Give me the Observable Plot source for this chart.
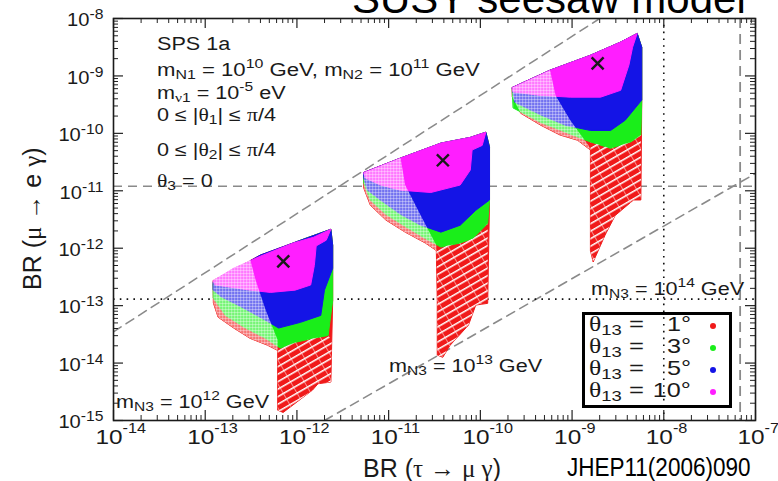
<!DOCTYPE html>
<html><head><meta charset="utf-8">
<script src="https://cdn.jsdelivr.net/npm/d3@7"></script>
<script src="https://cdn.jsdelivr.net/npm/@observablehq/plot@0.6"></script>
<style>
body{margin:0;background:#fff;}
#wrap{position:relative;width:778px;height:481px;overflow:hidden;font-family:"Liberation Sans",Arial,sans-serif;color:#1a1a1a;}
#wrap svg{position:absolute;left:0;top:0;}
.ann{position:absolute;white-space:nowrap;line-height:1;transform-origin:0 0;}
.ann sup,.ann sub{position:relative;font-size:0.72em;vertical-align:baseline;}
.ann sup{top:-0.55em;}
.ann sub{top:0.3em;}
.g{font-family:"Liberation Serif","DejaVu Serif",serif;}
</style></head><body><div id="wrap"></div>
<script>
// ---------- data ----------
const xDomain = [1e-14, 1e-7];
const yDomain = [1e-15, 1e-8];
const xTickExp = [-14, -13, -12, -11, -10, -9, -8, -7];
const yTickExp = [-15, -14, -13, -12, -11, -10, -9, -8];
const thetaNames = ["1°", "3°", "5°", "10°"];
const thetaColors = ["#f01a1a", "#1aee1a", "#1414e6", "#ff1eff"];

// scatter-region outlines, [log10 BR(tau->mu gamma), log10 BR(mu->e gamma)]
// m_N3 = 1e12 GeV
const red1 = [[-12.91,-12.56],[-12.40,-12.12],[-11.96,-11.86],[-11.63,-11.67],[-11.61,-11.95],[-11.61,-12.91],[-11.62,-13.60],[-11.63,-14.33],[-11.77,-14.36],[-11.83,-14.47],[-12.15,-14.86],[-12.21,-14.82],[-12.21,-13.78],[-12.32,-13.69],[-12.51,-13.57],[-12.69,-13.39],[-12.86,-13.20],[-12.91,-12.96]];
const green1 = [[-12.91,-12.61],[-12.40,-12.14],[-11.96,-11.86],[-11.63,-11.67],[-11.61,-11.95],[-11.61,-12.91],[-11.66,-13.52],[-11.83,-13.57],[-12.02,-13.64],[-12.18,-13.74],[-12.34,-13.57],[-12.56,-13.39],[-12.78,-13.17],[-12.91,-12.87]];
const blue1 = [[-12.91,-12.58],[-12.40,-12.12],[-11.96,-11.86],[-11.63,-11.67],[-11.61,-11.95],[-11.61,-12.35],[-11.70,-12.73],[-11.74,-13.17],[-11.96,-13.29],[-12.20,-13.39],[-12.38,-13.22],[-12.62,-13.01],[-12.83,-12.84],[-12.91,-12.73]];
const magenta1 = [[-12.91,-12.56],[-12.69,-12.35],[-12.40,-12.14],[-12.04,-11.91],[-11.82,-11.81],[-11.63,-11.67],[-11.68,-11.86],[-11.79,-11.96],[-11.81,-12.30],[-11.85,-12.64],[-12.02,-12.73],[-12.29,-12.77],[-12.51,-12.73],[-12.72,-12.68],[-12.89,-12.64]];
// m_N3 = 1e13 GeV
const red2 = [[-11.27,-10.68],[-10.87,-10.43],[-10.43,-10.17],[-10.11,-10.07],[-9.94,-9.98],[-9.90,-10.24],[-9.90,-11.16],[-9.92,-12.96],[-10.05,-12.99],[-10.13,-13.34],[-10.33,-13.69],[-10.41,-13.90],[-10.47,-13.86],[-10.47,-12.91],[-10.48,-12.04],[-10.60,-11.91],[-10.82,-11.72],[-11.03,-11.51],[-11.20,-11.25],[-11.27,-10.96]];
const green2 = [[-11.27,-10.68],[-10.87,-10.43],[-10.43,-10.17],[-10.11,-10.07],[-9.94,-9.98],[-9.90,-10.24],[-9.90,-11.16],[-9.92,-11.57],[-10.08,-11.83],[-10.22,-11.91],[-10.43,-11.98],[-10.60,-11.83],[-10.82,-11.62],[-11.03,-11.41],[-11.20,-11.16],[-11.27,-10.87]];
const blue2 = [[-11.27,-10.68],[-10.87,-10.43],[-10.43,-10.17],[-10.11,-10.07],[-9.94,-9.98],[-9.90,-10.24],[-9.90,-11.16],[-10.05,-11.34],[-10.22,-11.60],[-10.43,-11.72],[-10.65,-11.60],[-10.87,-11.41],[-11.09,-11.16],[-11.23,-10.99],[-11.27,-10.78]];
const magenta2 = [[-11.27,-10.68],[-10.87,-10.43],[-10.43,-10.17],[-10.11,-10.07],[-9.94,-9.98],[-9.98,-10.21],[-10.09,-10.29],[-10.11,-10.64],[-10.22,-10.90],[-10.54,-11.03],[-10.87,-10.99],[-11.09,-10.90],[-11.25,-10.78]];
// m_N3 = 1e14 GeV
const red3 = [[-9.65,-9.20],[-9.24,-8.90],[-8.80,-8.64],[-8.47,-8.41],[-8.29,-8.26],[-8.24,-8.50],[-8.24,-9.42],[-8.25,-11.16],[-8.33,-11.16],[-8.53,-11.43],[-8.64,-11.77],[-8.77,-12.24],[-8.80,-12.04],[-8.80,-10.29],[-8.94,-10.12],[-9.13,-10.03],[-9.34,-9.86],[-9.56,-9.65],[-9.65,-9.37]];
const green3 = [[-9.65,-9.20],[-9.24,-8.90],[-8.80,-8.64],[-8.47,-8.41],[-8.29,-8.26],[-8.24,-8.50],[-8.24,-9.42],[-8.25,-10.03],[-8.36,-10.15],[-8.58,-10.26],[-8.80,-10.15],[-9.07,-9.98],[-9.34,-9.81],[-9.64,-9.56]];
const blue3 = [[-9.65,-9.20],[-9.24,-8.90],[-8.80,-8.64],[-8.47,-8.41],[-8.29,-8.26],[-8.24,-8.50],[-8.24,-9.42],[-8.42,-9.77],[-8.58,-9.95],[-8.80,-9.95],[-9.07,-9.86],[-9.34,-9.68],[-9.62,-9.46]];
const magenta3 = [[-9.65,-9.20],[-9.24,-8.90],[-8.80,-8.64],[-8.47,-8.41],[-8.29,-8.26],[-8.34,-8.50],[-8.38,-8.81],[-8.47,-9.25],[-8.69,-9.37],[-9.02,-9.37],[-9.34,-9.34],[-9.64,-9.28]];
// sparse (dotted) outer parts of each region
const sparse1 = [[-12.91,-12.52],[-12.51,-12.19],[-12.45,-12.56],[-12.34,-13.08],[-12.21,-13.60],[-12.21,-13.78],[-12.32,-13.69],[-12.51,-13.57],[-12.69,-13.39],[-12.86,-13.20],[-12.91,-12.96]];
const sparse2 = [[-11.27,-10.68],[-10.87,-10.43],[-10.82,-10.90],[-10.65,-11.43],[-10.48,-11.95],[-10.48,-12.04],[-10.60,-11.91],[-10.82,-11.72],[-11.03,-11.51],[-11.20,-11.25],[-11.27,-10.96]];
const sparse3 = [[-9.65,-9.20],[-9.24,-8.90],[-9.18,-9.34],[-9.02,-9.77],[-8.82,-10.21],[-8.80,-10.29],[-8.94,-10.12],[-9.13,-10.03],[-9.34,-9.86],[-9.56,-9.65],[-9.65,-9.37]];
// striped lower tails (theta13 = 1 deg only)
const tail1 = [[-12.21,-13.78],[-12.21,-14.82],[-12.15,-14.86],[-11.83,-14.47],[-11.77,-14.36],[-11.63,-14.33],[-11.62,-13.60],[-11.66,-13.52],[-11.83,-13.57],[-12.02,-13.64],[-12.18,-13.74]];
const tail2 = [[-10.48,-12.04],[-10.47,-12.91],[-10.47,-13.86],[-10.41,-13.90],[-10.33,-13.69],[-10.13,-13.34],[-10.05,-12.99],[-9.92,-12.96],[-9.92,-11.57],[-10.08,-11.83],[-10.22,-11.91],[-10.43,-11.98]];
const tail3 = [[-8.80,-10.29],[-8.80,-12.04],[-8.77,-12.24],[-8.64,-11.77],[-8.53,-11.43],[-8.33,-11.16],[-8.25,-11.16],[-8.25,-10.03],[-8.36,-10.15],[-8.58,-10.26],[-8.80,-10.15]];

// reference points (x marks)
const markX = [7.1e-13, 3.9e-11, 1.9e-9];
const markY = [5.9e-13, 3.4e-11, 1.65e-9];
// experimental bounds / sensitivities
const boundMuDashed = 1.2e-11;
const boundMuDotted = 1.3e-13;
const boundTauDotted = 1e-8;
const boundTauDashed = 6.8e-8;
// diagonal guide lines (endpoints)
const diagAx = [1e-14, 2.0e-9], diagAy = [3.5e-14, 1e-8];
const diagBx = [2.0e-12, 1e-7], diagBy = [1e-15, 2.0e-11];

// ---------- build ----------
const W = 778, H = 481, mL = 113, mR = 23, mT = 18, mB = 61;
const innerW = W - mL - mR, innerH = H - mT - mB;
const regionSets = [[red1, red2, red3], [green1, green2, green3], [blue1, blue2, blue3], [magenta1, magenta2, magenta3]];
const toRows = polys => polys.flatMap((poly, c) => poly.map(([lx, ly]) => ({x: 10 ** lx, y: 10 ** ly, c})));
const marks = markX.map((x, i) => ({x, y: markY[i]}));
const diag = [
  ...diagAx.map((x, i) => ({x, y: diagAy[i], k: "A"})),
  ...diagBx.map((x, i) => ({x, y: diagBy[i], k: "B"}))
];
const allX = d3.scaleLog().domain(xDomain).ticks();
const allY = d3.scaleLog().domain(yDomain).ticks();
const isMajor = v => Math.abs(Math.log10(v) - Math.round(Math.log10(v))) < 1e-6;
const minX = allX.filter(v => !isMajor(v)), majX = allX.filter(isMajor);
const minY = allY.filter(v => !isMajor(v)), majY = allY.filter(isMajor);
const xLabVals = xTickExp.map(e => 10 ** e), yLabVals = yTickExp.map(e => 10 ** e);
const gray = "#8a8a8a";
const expFmt = d => String(Math.round(Math.log10(d)));

const plot = Plot.plot({
  width: W, height: H,
  marginLeft: mL, marginRight: mR, marginTop: mT, marginBottom: mB,
  x: {type: "log", domain: xDomain},
  y: {type: "log", domain: yDomain},
  style: {background: "transparent", color: "#1a1a1a"},
  marks: [
    Plot.line(diag, {x: "x", y: "y", z: "k", stroke: gray, strokeWidth: 1.6, strokeDasharray: "9,6", clip: true}),
    Plot.ruleY([boundMuDashed], {stroke: gray, strokeWidth: 1.6, strokeDasharray: "9,6"}),
    Plot.ruleY([boundMuDotted], {stroke: "#111", strokeWidth: 1.6, strokeDasharray: "1.6,5.2"}),
    Plot.ruleX([boundTauDotted], {stroke: "#111", strokeWidth: 1.6, strokeDasharray: "1.6,5.2"}),
    Plot.ruleX([boundTauDashed], {stroke: gray, strokeWidth: 1.8, strokeDasharray: "10,6"}),
    ...thetaNames.map((t, i) => Plot.line(toRows(regionSets[i]), {x: "x", y: "y", z: "c", curve: "linear-closed", fill: thetaColors[i], stroke: thetaColors[i], strokeWidth: 1})),
    Plot.line(toRows([sparse1, sparse2, sparse3]), {x: "x", y: "y", z: "c", curve: "linear-closed", fill: "url(#speck)", stroke: "none"}),
    Plot.line(toRows([tail1, tail2, tail3]), {x: "x", y: "y", z: "c", curve: "linear-closed", fill: "url(#stripe)", stroke: "none"}),
    Plot.dot(marks, {x: "x", y: "y", symbol: "times", r: 5.5, stroke: "#1a1a1a", strokeWidth: 2.4}),
    // inward ticks on all four sides
    Plot.tickX(minX, {x: d => d, insetTop: innerH - 5, stroke: "#222"}),
    Plot.tickX(minX, {x: d => d, insetBottom: innerH - 5, stroke: "#222"}),
    Plot.tickX(majX, {x: d => d, insetTop: innerH - 10, stroke: "#222", strokeWidth: 1.2}),
    Plot.tickX(majX, {x: d => d, insetBottom: innerH - 10, stroke: "#222", strokeWidth: 1.2}),
    Plot.tickY(minY, {y: d => d, insetRight: innerW - 5, stroke: "#222"}),
    Plot.tickY(minY, {y: d => d, insetLeft: innerW - 5, stroke: "#222"}),
    Plot.tickY(majY, {y: d => d, insetRight: innerW - 10, stroke: "#222", strokeWidth: 1.2}),
    Plot.tickY(majY, {y: d => d, insetLeft: innerW - 10, stroke: "#222", strokeWidth: 1.2}),
    Plot.axisX({ticks: xLabVals, tickSize: 0, tickPadding: 9, fontSize: 21, tickFormat: expFmt, label: null}),
    Plot.axisY({ticks: yLabVals, tickSize: 0, tickPadding: 10, fontSize: 18, tickFormat: expFmt, label: null}),
    Plot.frame({stroke: "#1a1a1a", strokeWidth: 1.6})
  ]
});

const NS = "http://www.w3.org/2000/svg";
// textures: dotted sparse parts, streaked tails
const defs = document.createElementNS(NS, "defs");
defs.innerHTML =
  '<pattern id="speck" width="3" height="3" patternUnits="userSpaceOnUse"><path d="M0,0h3v3h-3z M0.5,0.5v2.1h2.1v-2.1z" fill="#fff" fill-rule="evenodd"/></pattern>' +
  '<pattern id="stripe" width="12" height="6.5" patternUnits="userSpaceOnUse" patternTransform="rotate(-30)"><rect x="0" y="0" width="12" height="1.5" fill="#fff"/><rect x="0" y="1.5" width="1" height="5" fill="#fff" opacity="0.5"/></pattern>';
plot.prepend(defs);

// superscript exponents on tick labels
function powLabels(sel, o) {
  plot.querySelectorAll(sel).forEach(t => {
    const e = t.textContent; t.textContent = "";
    const a = document.createElementNS(NS, "tspan"); a.textContent = "10";
    const b = document.createElementNS(NS, "tspan"); b.textContent = e;
    b.setAttribute("dy", o.supDy); b.setAttribute("font-size", o.supSize);
    t.append(a, b);
    if (o.anchor) t.setAttribute("text-anchor", o.anchor);
    if (o.dx != null) t.setAttribute("dx", o.dx);
    t.style.fontFamily = "'Liberation Sans', Arial, sans-serif";
    t.setAttribute("transform", (t.getAttribute("transform") || "") + ` scale(${o.sx},1)` + (o.shiftY ? ` translate(0,${o.shiftY})` : ""));
  });
}
powLabels('g[aria-label="x-axis tick label"] text', {anchor: "start", dx: -15.5, supDy: -11, supSize: 14, sx: 1.16});
powLabels('g[aria-label="y-axis tick label"] text', {supDy: -7, supSize: 14, sx: 1.12, shiftY: 2});

const wrap = document.getElementById("wrap");
wrap.appendChild(plot);

function ann(html, left, baseline, size, extra) {
  const d = document.createElement("div");
  d.className = "ann";
  d.innerHTML = html;
  d.style.left = left + "px";
  d.style.top = (baseline - 0.86 * size) + "px";
  d.style.fontSize = size + "px";
  if (extra) Object.assign(d.style, extra);
  wrap.appendChild(d);
  return d;
}
const sx = {transform: "scaleX(1.2)"};
ann("SUSY seesaw model", 352, 14, 42, {color: "#000"});
ann("SPS 1a", 157, 50, 18, sx);
ann("m<sub>N1</sub> = 10<sup>10</sup> GeV, m<sub>N2</sub> = 10<sup>11</sup> GeV", 157, 76, 18, {transform: "scaleX(1.23)"});
ann("m<sub><span class='g'>ν</span>1</sub> = 10<sup>-5</sup> eV", 157, 99, 18, sx);
ann("0 ≤ |<span class='g'>θ</span><sub>1</sub>| ≤ <span class='g'>π</span>/4", 157, 121, 18, sx);
ann("0 ≤ |<span class='g'>θ</span><sub>2</sub>| ≤ <span class='g'>π</span>/4", 157, 156, 18, sx);
ann("<span class='g'>θ</span><sub>3</sub> = 0", 157, 187, 18, sx);
ann("m<sub>N3</sub> = 10<sup>12</sup> GeV", 116, 408, 18, sx);
ann("m<sub>N3</sub> = 10<sup>13</sup> GeV", 389, 372, 18, sx);
ann("m<sub>N3</sub> = 10<sup>14</sup> GeV", 591, 295, 18, sx);
ann("BR (<span class='g'>τ</span> → <span class='g'>μ γ</span>)", 363, 477, 25);
ann("JHEP11(2006)090", 567, 476, 25, {color: "#000", transform: "scaleX(0.9)"});
const yl = ann("BR (<span class='g'>μ</span> → e <span class='g'>γ</span>)", 0, 0, 25);
yl.style.left = "20px"; yl.style.top = "290px";
yl.style.transformOrigin = "0 0"; yl.style.transform = "rotate(-90deg)";

// legend
const leg = document.createElement("div");
Object.assign(leg.style, {position: "absolute", left: "582px", top: "312px", width: "144px", height: "90px", border: "3px solid #000", background: "transparent"});
wrap.appendChild(leg);
thetaNames.forEach((t, i) => {
  const base = 331 + i * 22;
  ann("<span class='g'>θ</span><sub style='top:0.25em'>13</sub> =", 589, base, 21, {transform: "scaleX(1.22)"});
  const v = ann(t, 0, base, 21);
  v.style.left = "auto"; v.style.right = (778 - 691) + "px";
  v.style.transformOrigin = "100% 0"; v.style.transform = "scaleX(1.2)";
  const dot = document.createElement("div");
  Object.assign(dot.style, {position: "absolute", left: "710px", top: (base - 8) + "px", width: "6px", height: "6px", borderRadius: "50%", background: thetaColors[i]});
  wrap.appendChild(dot);
});
</script></body></html>
